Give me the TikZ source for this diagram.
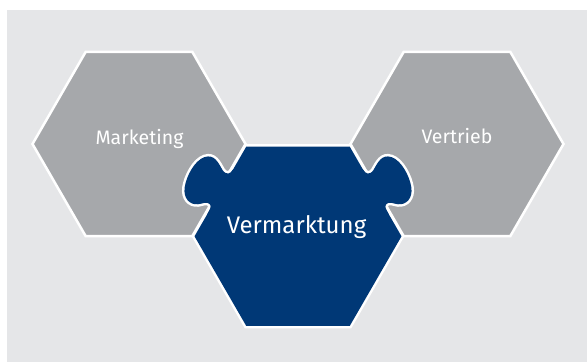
\documentclass[tikz,border=0pt]{standalone}
\usepackage{fontspec}
\setmainfont{Fira Sans}
\definecolor{bggray}{HTML}{E5E6E8}
\definecolor{hexgray}{HTML}{A6A8AB}
\definecolor{vmblue}{HTML}{003876}
\tikzset{
  grayhex/.style={fill=hexgray,draw=white,line width=2.5pt},
  hexlabel/.style={text=white,anchor=base,inner sep=0pt,font=\fontsize{19.5}{23}\selectfont},
}
% hexagon with flat top around #1, circumradius #2
\newcommand{\hexpath}[2]{(#1) +(0:#2) -- +(60:#2) -- +(120:#2) -- +(180:#2) -- +(240:#2) -- +(300:#2) -- cycle}
% puzzle knob on an edge, edge along x, outside is +y
\newcommand{\knob}{(26,0) .. controls (32,0) and (35,3) .. (32,9)
  .. controls (28,16) and (22,24) .. (30,31)
  .. controls (38,38) and (56,37) .. (66,33)
  .. controls (76,29) and (79,20) .. (74,13)
  .. controls (71,9) and (67,7) .. (68,3)
  .. controls (69,0) and (72,0) .. (78,0) -- (78,-5) -- (26,-5) -- cycle}

\begin{document}
\begin{tikzpicture}[x=1pt,y=1pt]
    \useasboundingbox (0,0) rectangle (587,-362);
    \fill[bggray] (7,-10) rectangle (587,-362);

    \coordinate (M) at (139,-144);
    \coordinate (V) at (298,-236.3);
    \coordinate (R) at (457,-144);

    \draw[grayhex] \hexpath{M}{106.5};
    \draw[grayhex] \hexpath{R}{106.5};

    % white rim first, then the blue piece on top
    \foreach \m in {1,-1}
        \draw[white,line width=5pt,shift={(V)},xscale=\m,shift={(60:103.5)},rotate=-60] \knob;
    \draw[white,line width=5pt] \hexpath{V}{103.5};
    \foreach \m in {1,-1}
        \fill[vmblue,shift={(V)},xscale=\m,shift={(60:103.5)},rotate=-60] \knob;
    \fill[vmblue] \hexpath{V}{103.5};

    \node[hexlabel] (mkt) at (139.5,-144.5) {Marketing};
    \node[hexlabel] (vtr) at (457,-143.5) {Vertrieb};
    \node[hexlabel,font=\fontsize{24}{28}\selectfont] (vmk) at (296.5,-233.3) {Vermarktung};

\end{tikzpicture}
\end{document}
